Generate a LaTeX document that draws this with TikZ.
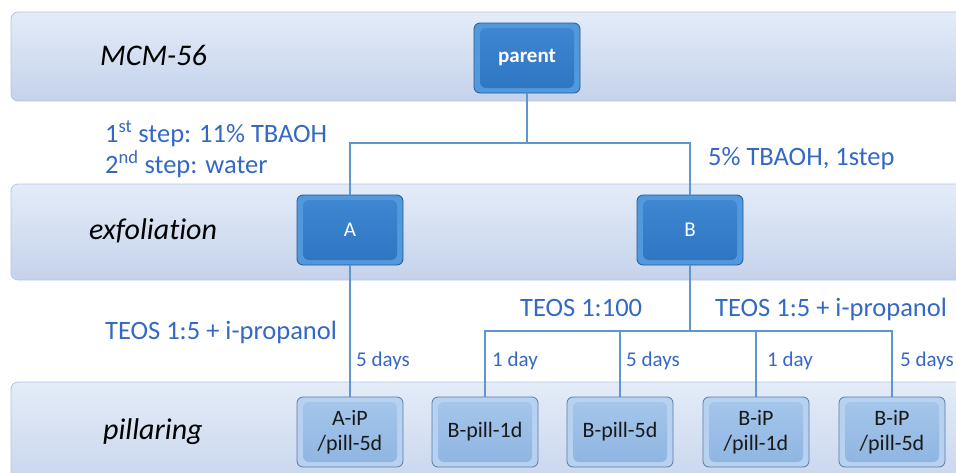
\documentclass[tikz,border=0pt]{standalone}
\usepackage{fontspec}
\setmainfont{Carlito}[Ligatures={CommonOff,ContextualOff}]
\usetikzlibrary{calc}
\definecolor{lbl}{RGB}{52,104,196}
\definecolor{conn}{RGB}{95,150,210}
\definecolor{bandtop}{RGB}{228,236,249}
\definecolor{bandbot}{RGB}{196,210,234}
\definecolor{bandedge}{RGB}{180,196,222}
\definecolor{dkedge}{RGB}{38,88,148}
\definecolor{dkout}{RGB}{82,152,220}
\definecolor{dktop}{RGB}{64,136,210}
\definecolor{dkbot}{RGB}{46,116,194}
\definecolor{ltedge}{RGB}{92,122,162}
\definecolor{ltout}{RGB}{182,210,240}
\definecolor{lttop}{RGB}{166,199,236}
\definecolor{ltbot}{RGB}{142,180,224}
\tikzset{
  band/.style={draw=bandedge, line width=0.8pt, rounded corners=7pt, top color=bandtop, bottom color=bandbot},
  bandlbl/.style={anchor=base west, font=\fontsize{30}{33}\selectfont\itshape, text=black, inner sep=0pt},
  lab/.style={anchor=base west, font=\fontsize{26.5}{29}\selectfont, text=lbl, inner sep=0pt},
  days/.style={anchor=base west, font=\fontsize{21}{24}\selectfont, text=lbl, inner sep=0pt},
  conn/.style={draw=conn, line width=1.3pt},
  dkbox/.style={draw=dkedge, line width=0.8pt, rounded corners=6pt, minimum width=106pt, minimum height=70pt, inner sep=0pt,
    fill=dkout, text=white, font=\fontsize{21}{24}\selectfont,
    path picture={\shade[top color=dktop, bottom color=dkbot]
      ($(path picture bounding box.south west)+(6pt,5pt)$) rectangle ($(path picture bounding box.north east)+(-6pt,-5pt)$);}},
  ltbox/.style={draw=ltedge, line width=0.8pt, rounded corners=6pt, minimum width=106pt, minimum height=70pt, inner sep=0pt,
    fill=ltout, text=black!90, font=\fontsize{22}{25}\selectfont, align=center,
    path picture={\shade[top color=lttop, bottom color=ltbot]
      ($(path picture bounding box.south west)+(6pt,5pt)$) rectangle ($(path picture bounding box.north east)+(-6pt,-5pt)$);}},
}
\begin{document}
\begin{tikzpicture}[x=1pt,y=-1pt]
\useasboundingbox (0,0) rectangle (956,472);
% bands
\path[band] (11,12) rectangle (985,101);
\path[band] (11,184) rectangle (985,280);
\path[band] (11,382) rectangle (985,500);
\node[bandlbl] (t1) at (100,65) {MCM-56};
\node[bandlbl] (t2) at (89,239) {exfolia\kern0pt tion};
\node[bandlbl] (t3) at (103,439) {pillaring};
% nodes
\node[dkbox, font=\fontsize{21}{24}\selectfont\bfseries] (parent) at (527,58) {parent};
\node[dkbox] (A) at (350,230) {A};
\node[dkbox] (B) at (690,230) {B};
\node[ltbox] (AiP) at (350,432) {A-iP\\/pill-5d};
\node[ltbox] (Bp1) at (485,432) {B-pill-1d};
\node[ltbox] (Bp5) at (620,432) {B-pill-5d};
\node[ltbox] (BiP1) at (756,432) {B-iP\\/pill-1d};
\node[ltbox] (BiP5) at (892,432) {B-iP\\/pill-5d};
% junctions
\coordinate (j1) at (527,143);
\coordinate (j2) at (690,331);
\draw[conn] (parent.south) -- (j1) -| (A.north);
\draw[conn] (j1) -| (B.north);
\draw[conn] (A.south) -- (AiP.north);
\draw[conn] (B.south) -- (j2) -| (Bp1.north);
\draw[conn] (j2) -| (Bp5.north);
\draw[conn] (j2) -| (BiP1.north);
\draw[conn] (j2) -| (BiP5.north);
% labels
\node[lab] (l1) at (105,142) {1\textsuperscript{st} step: 11\% TBAOH};
\node[lab] (l2) at (105,173) {2\textsuperscript{nd} step: water};
\node[lab] (l3) at (708,165) {5\% TBAOH, 1step};
\node[lab] (l4) at (105,339) {TEOS 1:5 + i-propanol};
\node[lab] (l5) at (520,316) {TEOS 1:100};
\node[lab] (l6) at (715,316) {TEOS 1:5 + i-propanol};
\node[days] (d1) at (356,366) {5 days};
\node[days] (d2) at (492,366) {1 day};
\node[days] (d3) at (626,366) {5 days};
\node[days] (d4) at (767,366) {1 day};
\node[days] (d5) at (900,366) {5 days};
\end{tikzpicture}
\end{document}
